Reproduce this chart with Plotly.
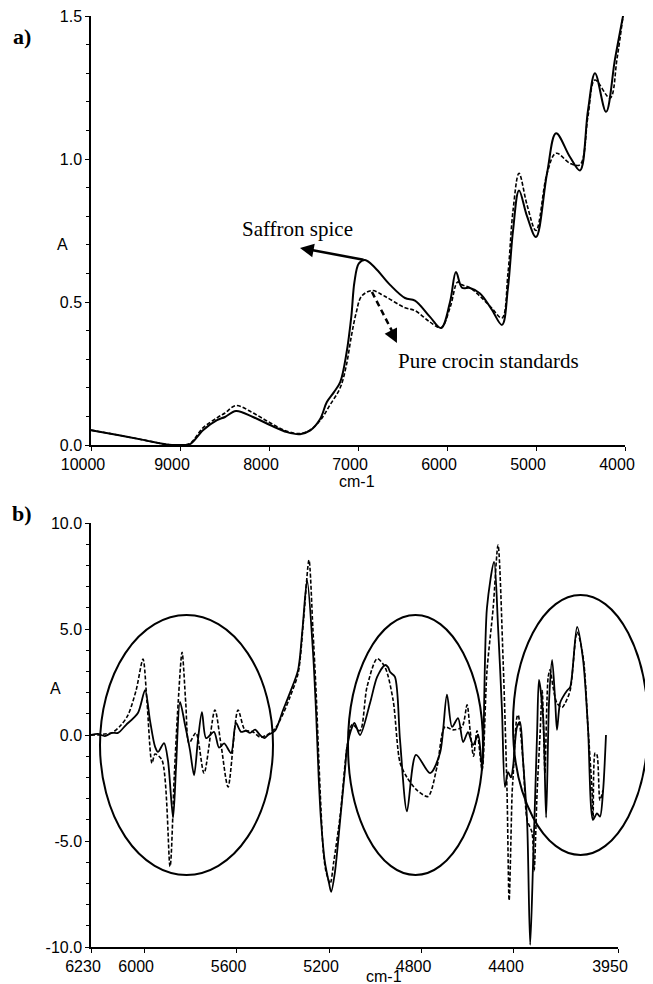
import plotly.graph_objects as go

# Page offset (default body margin of the html page) is compensated below
OFF = 8
W, H = 653 - OFF, 984 - OFF

# ---------------- Panel a data (wavenumber cm-1, absorbance) ----------------
wn_a_saffron = [10000, 9700, 9400, 9150, 9000, 8888, 8742, 8584, 8494, 8371, 8180, 7989, 7798, 7652,
                7540, 7427, 7350, 7270, 7200, 7130, 7075, 7040, 6990, 6921, 6809, 6640, 6472, 6360,
                6191, 6067, 5966, 5899, 5831, 5742, 5629, 5500, 5382, 5315, 5258, 5191, 5101, 5000,
                4876, 4775, 4618, 4506, 4416, 4337, 4213, 4112, 4022]
abs_a_saffron = [0.052, 0.035, 0.017, 0.002, 0.0, 0.003, 0.052, 0.087, 0.098, 0.119, 0.098, 0.070, 0.045, 0.038,
                 0.050, 0.090, 0.150, 0.185, 0.220, 0.320, 0.450, 0.570, 0.635, 0.647, 0.620, 0.560, 0.514, 0.505,
                 0.448, 0.409, 0.500, 0.605, 0.550, 0.549, 0.530, 0.475, 0.420, 0.550, 0.750, 0.890, 0.800, 0.727,
                 0.950, 1.090, 1.007, 0.960, 1.170, 1.300, 1.165, 1.350, 1.500]

wn_a_crocin = [10000, 9700, 9400, 9150, 9000, 8888, 8742, 8584, 8494, 8371, 8180, 7989, 7798, 7652,
               7540, 7427, 7315, 7200, 7130, 7075, 7022, 6960, 6843, 6700, 6472, 6360,
               6191, 6067, 5966, 5880, 5831, 5742, 5629, 5500, 5382, 5315, 5258, 5191, 5101, 5000,
               4876, 4775, 4618, 4506, 4416, 4337, 4169, 4090, 4022]
abs_a_crocin = [0.052, 0.035, 0.017, 0.002, 0.0, 0.005, 0.060, 0.095, 0.112, 0.138, 0.112, 0.078, 0.048, 0.040,
                0.052, 0.085, 0.140, 0.200, 0.280, 0.380, 0.460, 0.520, 0.540, 0.520, 0.480, 0.470,
                0.430, 0.410, 0.480, 0.570, 0.560, 0.550, 0.520, 0.480, 0.444, 0.600, 0.820, 0.950, 0.840, 0.750,
                0.950, 1.020, 0.985, 0.980, 1.150, 1.276, 1.213, 1.350, 1.500]

# ---------------- Panel b data (wavenumber cm-1, 2nd derivative) ----------------
wn_b_saffron = [6230, 6200, 6170, 6140, 6113, 6079, 6027, 5996, 5975, 5953, 5940, 5914, 5897, 5875, 5862,
                5845, 5823, 5802, 5784, 5767, 5750, 5732, 5698, 5676, 5654, 5624, 5603, 5581, 5560,
                5542, 5520, 5499, 5480, 5464, 5434, 5399, 5369, 5334, 5315, 5295, 5270, 5256, 5245,
                5235, 5218, 5200, 5191, 5175, 5152, 5130, 5122, 5100, 5090, 5066, 5023, 4992, 4958,
                4945, 4936, 4915, 4893, 4863, 4824, 4763, 4720, 4690, 4668, 4642, 4620, 4599, 4577,
                4555, 4538, 4517, 4486, 4469, 4452, 4439, 4426, 4413, 4404, 4387, 4374, 4361, 4343,
                4330, 4317, 4300, 4292, 4274, 4261, 4248, 4235, 4222, 4214, 4201, 4188, 4170, 4157,
                4127, 4101, 4080, 4058, 4041, 4028, 4015, 4002]
d2_b_saffron = [0.0, 0.05, -0.05, 0.1, 0.1, 0.47, 1.04, 2.12, 0.7, -0.55, -0.8, -0.38, -1.2, -3.9, -1.5,
                1.56, 0.47, -0.7, -1.9, -0.2, 1.08, -0.15, 0.15, -0.6, -0.4, -0.85, 0.57, 0.15, 0.2,
                0.1, 0.25, 0.0, -0.15, 0.0, 0.2, 1.18, 2.0, 3.07, 5.0, 7.3, 4.0, 1.0, -2.0,
                -4.0, -6.0, -7.0, -7.4, -6.5, -4.0, -1.5, -0.56, 0.38, 0.57, 0.0, 1.5, 2.74, 3.3,
                3.2, 2.97, 2.74, -0.24, -3.6, -0.94, -1.8, -0.85, 1.9, 0.38, 0.8, -0.33, 0.14, -0.47,
                0.0, -1.5, 6.0, 8.16, 5.1, 1.18, -2.45, -1.75, -2.0, -1.5, 0.38, 0.61, -1.18, -4.15,
                -9.9, -5.9, 0.1, 2.6, 0.85, -3.9, 1.65, 3.54, 1.65, 0.24, 1.5, 1.8, 2.1, 2.26,
                5.1, 3.54, 0.38, -4.0, -3.7, -3.85, -2.7, 0.0]

wn_b_crocin = [6230, 6200, 6170, 6140, 6100, 6070, 6035, 6005, 5988, 5966, 5953, 5923, 5888, 5870,
               5853, 5836, 5820, 5806, 5776, 5741, 5694, 5667, 5637, 5594, 5564, 5530, 5499, 5470,
               5434, 5399, 5369, 5334, 5310, 5287, 5270, 5256, 5245, 5235, 5225, 5213, 5195, 5180,
               5152, 5122, 5100, 5066, 5036, 4992, 4958, 4923, 4893, 4863, 4820, 4772, 4733, 4699,
               4664, 4625, 4603, 4590, 4575, 4560, 4538, 4517, 4490, 4469, 4447, 4430, 4421, 4408,
               4404, 4387, 4382, 4361, 4343, 4322, 4313, 4300, 4287, 4278, 4270, 4266, 4252, 4244,
               4231, 4214, 4192, 4179, 4157, 4127, 4101, 4080, 4062, 4058, 4049, 4041, 4028, 4015]
d2_b_crocin = [0.0, 0.0, 0.05, 0.1, 0.47, 0.94, 2.1, 3.58, 1.6, -1.33, -0.9, -1.18, -6.2, -2.0,
               1.5, 3.9, 1.5, -0.38, 0.1, -1.8, 1.18, -0.5, -2.45, 1.18, 0.24, 0.15, -0.1, 0.0,
               0.3, 1.0, 1.8, 2.9, 5.5, 8.25, 5.0, 2.0, -1.0, -3.5, -5.5, -6.45, -7.0, -6.0,
               -3.8, -0.56, 0.5, 0.2, 2.26, 3.6, 3.2, 1.65, -1.3, -2.0, -2.6, -2.9, -1.5, 0.38,
               0.24, 0.38, 1.42, 0.24, -1.0, 0.2, -1.65, 3.0, 6.0, 8.96, 3.5, -2.7, -7.8, -2.7,
               -2.0, 0.85, 0.94, -1.18, -4.0, -4.6, -6.4, -2.7, 0.1, 2.1, -0.5, -1.8, 2.74, 3.07,
               2.26, 1.5, 1.3, 1.5, 2.1, 4.86, 3.7, 0.38, -2.7, -4.0, -0.85, -0.94, -3.07, -2.6]

xticks_a = [10000, 9000, 8000, 7000, 6000, 5000, 4000]
yticks_a = [0.0, 0.5, 1.0, 1.5]
yticktext_a = ["0.0", "0.5", "1.0", "1.5"]
xticks_b = [6230, 6000, 5600, 5200, 4800, 4400, 3950]
yticks_b = [-10, -5, 0, 5, 10]
yticktext_b = ["-10.0", "-5.0", "0.0", "5.0", "10.0"]


def px(x):
    return (x - OFF) / W


def py(y):
    return 1 - (y - OFF) / H


SANS = "Liberation Sans, Arial, sans-serif"
SERIF = "Liberation Serif, Times New Roman, serif"

fig = go.Figure()

fig.add_trace(go.Scatter(x=wn_a_crocin, y=abs_a_crocin, mode="lines", xaxis="x", yaxis="y",
                         line=dict(color="black", width=1.6, dash="4px,2px", shape="spline", smoothing=1.0),
                         showlegend=False, hoverinfo="skip"))
fig.add_trace(go.Scatter(x=wn_a_saffron, y=abs_a_saffron, mode="lines", xaxis="x", yaxis="y",
                         line=dict(color="black", width=2, shape="spline", smoothing=1.0),
                         showlegend=False, hoverinfo="skip"))
fig.add_trace(go.Scatter(x=wn_b_crocin, y=d2_b_crocin, mode="lines", xaxis="x2", yaxis="y2",
                         line=dict(color="black", width=1.6, dash="4px,2px", shape="spline", smoothing=0.8),
                         showlegend=False, hoverinfo="skip"))
fig.add_trace(go.Scatter(x=wn_b_saffron, y=d2_b_saffron, mode="lines", xaxis="x2", yaxis="y2",
                         line=dict(color="black", width=1.8, shape="spline", smoothing=0.8),
                         showlegend=False, hoverinfo="skip"))

axis_common = dict(showline=True, linecolor="black", linewidth=1.5, showgrid=False, zeroline=False,
                   ticks="outside", ticklen=4, tickcolor="black", tickwidth=1, automargin=False,
                   ticklabeloverflow="allow",
                   tickfont=dict(family=SANS, size=16, color="black"))

fig.update_layout(
    width=W, height=H,
    margin=dict(l=0, r=0, t=0, b=0, pad=0),
    paper_bgcolor="white", plot_bgcolor="white",
    xaxis=dict(domain=[px(91), px(625)], anchor="y", range=[10000, 4000],
               tickvals=xticks_a, ticktext=[str(v) for v in xticks_a], ticklabelshift=8, **axis_common),
    yaxis=dict(domain=[py(445), py(16)], anchor="x", range=[0, 1.5],
               tickvals=yticks_a, ticktext=yticktext_a,
               minor=dict(dtick=0.1, ticks="outside", ticklen=3, tickcolor="black"), **axis_common),
    xaxis2=dict(domain=[px(91), px(618)], anchor="y2", range=[6230, 3950],
                tickvals=xticks_b, ticktext=[str(v) for v in xticks_b], ticklabelshift=8, **axis_common),
    yaxis2=dict(domain=[py(947), py(523)], anchor="x2", range=[-10, 10],
                tickvals=yticks_b, ticktext=yticktext_b,
                minor=dict(dtick=1, ticks="outside", ticklen=3, tickcolor="black"), **axis_common),
)

annotations = []


def text_ann(t, x, y, family, size, bold=False):
    annotations.append(dict(text=("<b>%s</b>" % t) if bold else t, x=px(x), y=py(y), xref="paper", yref="paper",
                            showarrow=False, xanchor="center", yanchor="middle",
                            font=dict(family=family, size=size, color="black")))


text_ann("a)", 22, 37, SERIF, 22, bold=True)
text_ann("b)", 22, 513, SERIF, 22, bold=True)
text_ann("A", 62, 244, SANS, 16)
text_ann("A", 55, 688, SANS, 16)
text_ann("cm-1", 357, 481, SANS, 16)
text_ann("cm-1", 384, 976, SANS, 16)
text_ann("Saffron spice", 297, 229, SERIF, 21)
text_ann("Pure crocin standards", 488, 361, SERIF, 21)

# Solid arrow: Saffron spice
annotations.append(dict(x=7652, y=0.689, ax=6921, ay=0.647, xref="x", yref="y", axref="x", ayref="y",
                        text="", showarrow=True, arrowhead=2, arrowsize=1.1, arrowwidth=2.5, arrowcolor="black"))
# Dashed arrow head: crocin
annotations.append(dict(x=6562, y=0.357, ax=-6, ay=-12, xref="x", yref="y",
                        text="", showarrow=True, arrowhead=2, arrowsize=1.1, arrowwidth=2.5, arrowcolor="black"))
fig.update_layout(annotations=annotations)

shapes = [
    dict(type="line", xref="x", yref="y", x0=6843, y0=0.535, x1=6607, y1=0.392,
         line=dict(color="black", width=2.5, dash="6px,4px")),
]
for (x0, x1, y0, y1) in [(100, 273, 615, 875), (348, 483, 615, 875), (513, 648, 595, 855)]:
    shapes.append(dict(type="circle", xref="paper", yref="paper", x0=px(x0), x1=px(x1), y0=py(y1), y1=py(y0),
                       line=dict(color="black", width=2)))
fig.update_layout(shapes=shapes)

fig.write_html("out.html")
